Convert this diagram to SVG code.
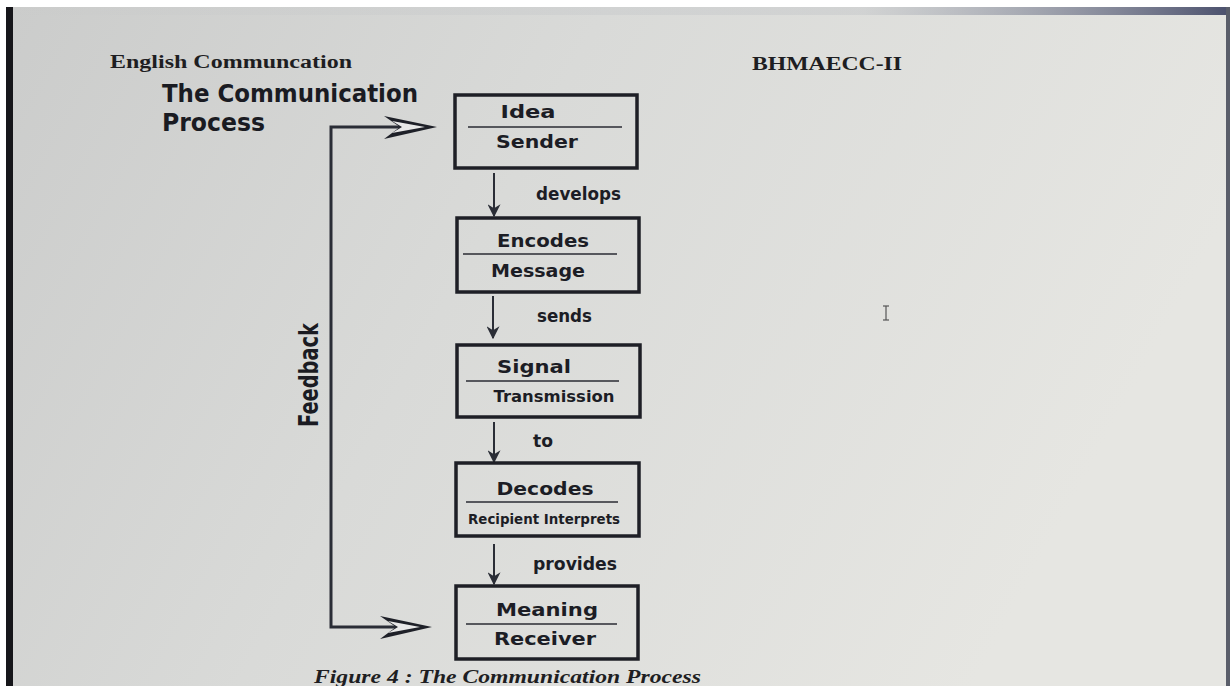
<svg xmlns="http://www.w3.org/2000/svg" width="1230" height="686" viewBox="0 0 1230 686">
<defs>
<linearGradient id="bg" x1="0" y1="0" x2="1" y2="0.3">
<stop offset="0" stop-color="#cbcccb"/>
<stop offset="0.45" stop-color="#d9dad8"/>
<stop offset="1" stop-color="#e6e6e2"/>
</linearGradient>
<linearGradient id="topshade" x1="0" y1="0" x2="1" y2="0">
<stop offset="0" stop-color="#8a90a0" stop-opacity="0"/>
<stop offset="0.7" stop-color="#8a90a0" stop-opacity="0.15"/>
<stop offset="1" stop-color="#3a4060" stop-opacity="0.9"/>
</linearGradient>
<marker id="ah" viewBox="0 0 10 10" refX="9" refY="5" markerWidth="13" markerHeight="13" markerUnits="userSpaceOnUse" orient="auto">
<path d="M0,0 L10,5 L0,10 L3,5 Z" fill="#2a2d36"/>
</marker>
</defs>
<style>
.box{fill:none;stroke:#1e1f26;stroke-width:3.5}
.div{stroke:#2a2b33;stroke-width:1.6}
.lbl{font-family:"DejaVu Sans",sans-serif;font-weight:bold;fill:#1c1d25;text-anchor:middle}
.ed{font-family:"DejaVu Sans",sans-serif;font-weight:bold;fill:#1c1d25}
.conn{stroke:#2a2d36;stroke-width:2;fill:none}
.fb{stroke:#2a2d36;stroke-width:3;fill:none}
.serif{font-family:"Liberation Serif",serif;font-weight:bold;fill:#1e1e22}
.title{font-family:"DejaVu Sans Condensed","DejaVu Sans",sans-serif;font-weight:bold;fill:#1a1b22}
</style>
<rect x="0" y="0" width="1230" height="686" fill="#ffffff"/>
<rect x="6" y="7" width="1224" height="679" fill="url(#bg)"/>
<rect x="6" y="7" width="1224" height="8" fill="url(#topshade)"/>
<rect x="6" y="7" width="7" height="679" fill="#16161a"/>
<rect x="1226" y="7" width="4" height="679" fill="#5a5e6a"/>

<text class="serif" x="110" y="68" font-size="18" textLength="242" lengthAdjust="spacingAndGlyphs">English Communcation</text>
<text class="serif" x="752" y="70" font-size="18" textLength="150" lengthAdjust="spacingAndGlyphs">BHMAECC-II</text>
<text class="title" x="162" y="102" font-size="25" textLength="256" lengthAdjust="spacingAndGlyphs">The Communication</text>
<text class="title" x="162" y="131" font-size="25" textLength="103" lengthAdjust="spacingAndGlyphs">Process</text>

<g id="connectors">
<line class="conn" x1="494" y1="173" x2="494" y2="216" marker-end="url(#ah)"/>
<line class="conn" x1="493" y1="296" x2="493" y2="338" marker-end="url(#ah)"/>
<line class="conn" x1="494" y1="422" x2="494" y2="462" marker-end="url(#ah)" stroke="#3c4250"/>
<line class="conn" x1="494" y1="544" x2="494" y2="584" marker-end="url(#ah)" stroke="#4a5060"/>
<polyline class="fb" points="400,127 331,127 331,627 400,627"/>
<path d="M384,116 L437,127 L384,139 L400,127 Z" fill="#1e2028"/>
<path d="M392,121 L425,127 L392,133 L402,127 Z" fill="#e8e8e8"/>
<path d="M380,616 L432,627 L380,639 L396,627 Z" fill="#1e2028"/>
<path d="M388,621 L420,627 L388,633 L398,627 Z" fill="#e8e8e8"/>
<text class="ed" x="536" y="200" font-size="17" textLength="85" lengthAdjust="spacingAndGlyphs">develops</text>
<text class="ed" x="537" y="322" font-size="17" textLength="55" lengthAdjust="spacingAndGlyphs">sends</text>
<text class="ed" x="533" y="447" font-size="17" textLength="20" lengthAdjust="spacingAndGlyphs">to</text>
<text class="ed" x="533" y="570" font-size="17" textLength="84" lengthAdjust="spacingAndGlyphs">provides</text>
<text class="title" transform="translate(318,375) rotate(-90)" x="0" y="0" font-size="27" text-anchor="middle" textLength="104" lengthAdjust="spacingAndGlyphs">Feedback</text>
</g>

<g id="n1">
<rect class="box" x="455" y="95" width="182" height="73"/>
<line class="div" x1="468" y1="127" x2="622" y2="127"/>
<text class="lbl" x="528" y="118" font-size="18" textLength="55" lengthAdjust="spacingAndGlyphs">Idea</text>
<text class="lbl" x="537" y="148" font-size="18" textLength="82" lengthAdjust="spacingAndGlyphs">Sender</text>
</g>
<g id="n2">
<rect class="box" x="457" y="218" width="182" height="74"/>
<line class="div" x1="463" y1="254" x2="617" y2="254"/>
<text class="lbl" x="543" y="247" font-size="18" textLength="92" lengthAdjust="spacingAndGlyphs">Encodes</text>
<text class="lbl" x="538" y="277" font-size="18" textLength="94" lengthAdjust="spacingAndGlyphs">Message</text>
</g>
<g id="n3">
<rect class="box" x="457" y="345" width="183" height="72"/>
<line class="div" x1="466" y1="381" x2="619" y2="381"/>
<text class="lbl" x="534" y="373" font-size="18" textLength="74" lengthAdjust="spacingAndGlyphs">Signal</text>
<text class="lbl" x="554" y="402" font-size="16" textLength="121" lengthAdjust="spacingAndGlyphs">Transmission</text>
</g>
<g id="n4">
<rect class="box" x="456" y="463" width="183" height="73"/>
<line class="div" x1="466" y1="502" x2="618" y2="502"/>
<text class="lbl" x="545" y="495" font-size="18" textLength="97" lengthAdjust="spacingAndGlyphs">Decodes</text>
<text class="lbl" x="544" y="524" font-size="14" textLength="152" lengthAdjust="spacingAndGlyphs">Recipient Interprets</text>
</g>
<g id="n5">
<rect class="box" x="456" y="586" width="182" height="73"/>
<line class="div" x1="466" y1="624" x2="617" y2="624"/>
<text class="lbl" x="547" y="616" font-size="18" textLength="102" lengthAdjust="spacingAndGlyphs">Meaning</text>
<text class="lbl" x="545" y="645" font-size="18" textLength="102" lengthAdjust="spacingAndGlyphs">Receiver</text>
</g>

<text class="serif" x="314" y="683" font-size="18" font-style="italic" textLength="387" lengthAdjust="spacingAndGlyphs">Figure 4 : The Communication Process</text>

<g id="cursor" stroke="#555" stroke-width="1.2" fill="none">
<line x1="886" y1="306" x2="886" y2="320"/>
<line x1="883" y1="306" x2="889" y2="306"/>
<line x1="883" y1="320" x2="889" y2="320"/>
</g>
</svg>
